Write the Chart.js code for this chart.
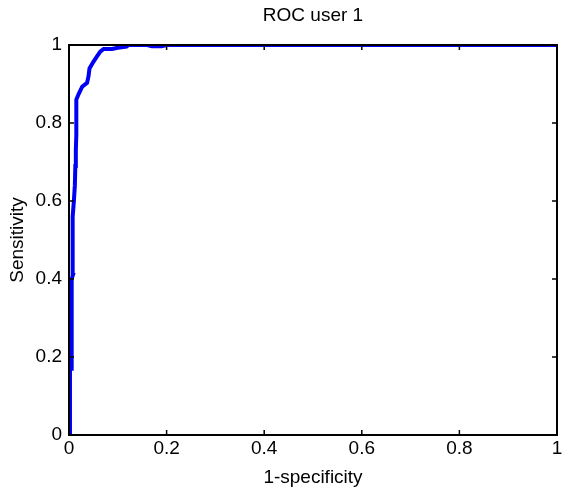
<!DOCTYPE html>
<html>
<head>
<meta charset="utf-8">
<script src="https://cdn.jsdelivr.net/npm/chart.js@4.4.1/dist/chart.umd.min.js"></script>
<style>
html,body{margin:0;padding:0;background:#fff;}
#wrap{width:562px;height:488px;}
</style>
</head>
<body>
<div id="wrap"><canvas id="c" width="562" height="488"></canvas></div>
<script>
const chartTitle = "ROC user 1";
const xLabel = "1-specificity";
const yLabel = "Sensitivity";
const tickValues = [0, 0.2, 0.4, 0.6, 0.8, 1];
const fpr = [0, 0.002, 0.002, 0.005, 0.005, 0.006, 0.008, 0.008, 0.007, 0.007, 0.008, 0.010, 0.012, 0.013, 0.014, 0.015, 0.015, 0.015, 0.020, 0.027, 0.037, 0.040, 0.042, 0.050, 0.057, 0.064, 0.071, 0.088, 0.100, 0.118, 0.122, 0.160, 0.170, 0.190, 0.200, 1];
const tpr = [0, 0.02, 0.17, 0.17, 0.27, 0.40, 0.41, 0.43, 0.44, 0.52, 0.56, 0.60, 0.64, 0.69, 0.73, 0.77, 0.80, 0.86, 0.875, 0.893, 0.903, 0.92, 0.94, 0.957, 0.97, 0.983, 0.99, 0.99, 0.993, 0.996, 1, 1, 0.997, 0.997, 1, 1];

const pts = fpr.map((x, i) => ({x: x, y: tpr[i]}));
const FONT = "'Liberation Sans', Arial, sans-serif";
const FS = 19;

const boxPlugin = {
  id: 'boxPlugin',
  afterDraw(chart) {
    const ctx = chart.ctx;
    const a = chart.chartArea;
    const xs = chart.scales.x, ys = chart.scales.y;
    ctx.save();
    ctx.strokeStyle = '#000';
    ctx.lineWidth = 2;
    ctx.strokeRect(a.left, a.top, a.right - a.left, a.bottom - a.top);
    ctx.lineWidth = 1.5;
    const tl = 5;
    ctx.beginPath();
    tickValues.forEach(v => {
      const px = xs.getPixelForValue(v);
      ctx.moveTo(px, a.bottom); ctx.lineTo(px, a.bottom - tl);
      ctx.moveTo(px, a.top); ctx.lineTo(px, a.top + tl);
      const py = ys.getPixelForValue(v);
      ctx.moveTo(a.left, py); ctx.lineTo(a.left + tl, py);
      ctx.moveTo(a.right, py); ctx.lineTo(a.right - tl, py);
    });
    ctx.stroke();
    ctx.fillStyle = '#000';
    ctx.font = FS + 'px ' + FONT;
    ctx.textAlign = 'center';
    ctx.textBaseline = 'middle';
    ctx.fillText(chartTitle, (a.left + a.right) / 2, 16);
    ctx.restore();
  }
};

new Chart(document.getElementById('c'), {
  type: 'scatter',
  data: {
    datasets: [{
      data: pts,
      showLine: true,
      borderColor: '#0000f5',
      backgroundColor: '#0000f5',
      borderWidth: 4,
      pointRadius: 0,
      tension: 0
    }]
  },
  options: {
    responsive: false,
    animation: false,
    devicePixelRatio: 1,
    layout: { padding: { top: 45, right: 0, left: 0, bottom: 0 } },
    plugins: { legend: { display: false }, tooltip: { enabled: false }, title: { display: false } },
    scales: {
      x: {
        type: 'linear', min: 0, max: 1,
        afterBuildTicks: s => { s.ticks = tickValues.map(v => ({value: v})); },
        afterFit: s => { s.height = 53; s.paddingRight = 5; s.paddingLeft = 0; },
        grid: { display: false, drawTicks: false },
        border: { display: false },
        ticks: { color: '#000', padding: 4, maxRotation: 0, font: { size: FS, family: FONT, lineHeight: 1 }, callback: v => String(v) },
        title: { display: true, text: xLabel, color: '#000', padding: { top: 0, bottom: 0.5 }, font: { size: FS, family: FONT, lineHeight: 1 } }
      },
      y: {
        type: 'linear', min: 0, max: 1,
        afterBuildTicks: s => { s.ticks = tickValues.map(v => ({value: v})); },
        afterFit: s => { s.width = 69; },
        grid: { display: false, drawTicks: false },
        border: { display: false },
        ticks: { color: '#000', padding: 7, font: { size: FS, family: FONT, lineHeight: 1 }, callback: v => String(v) },
        title: { display: true, text: yLabel, color: '#000', padding: { top: 8, bottom: 0 }, font: { size: FS, family: FONT, lineHeight: 1 } }
      }
    }
  },
  plugins: [boxPlugin]
});
</script>
</body>
</html>
